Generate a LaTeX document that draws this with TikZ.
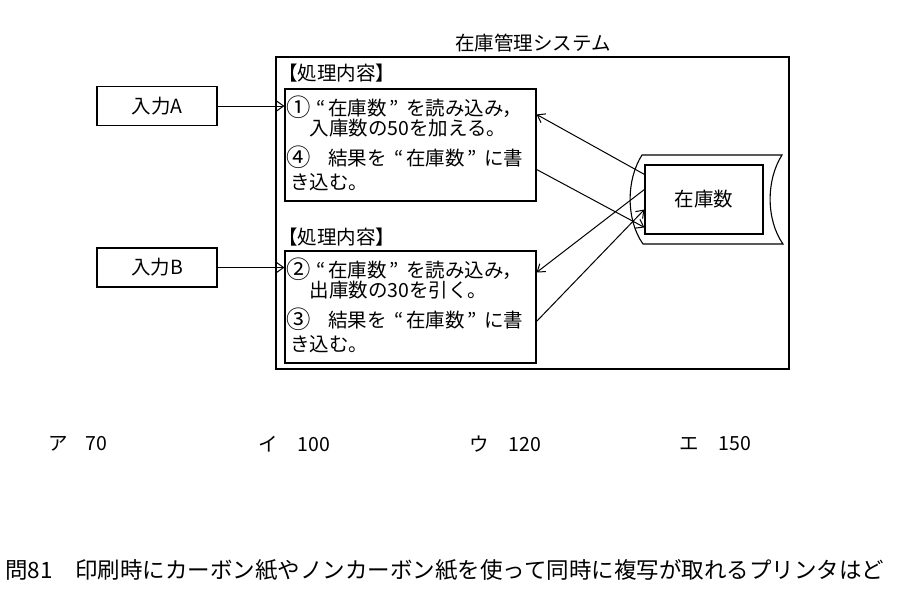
\documentclass[tikz,border=0pt]{standalone}
\usepackage{fontspec}
\usepackage{graphicx}
\setmainfont{Noto Sans CJK JP}
\usetikzlibrary{arrows.meta}
\newcommand\oq{\makebox[1em][r]{“\hspace{0.15em}}}
\newcommand\cq{\makebox[1em][l]{\hspace{0.15em}”}}
\newcommand\cn[1]{\makebox[1em][c]{\raisebox{-0.05em}{\scalebox{1.25}{#1}}}}
\begin{document}
\begin{tikzpicture}[x=1pt,y=-1pt,
  every node/.style={font=\fontsize{19.5}{19.5}\selectfont, inner sep=0pt},
  box/.style={draw, line width=1.1pt},
  txt/.style={anchor=west},
  arr/.style={line width=1pt, -{Straight Barb[length=7pt,width=10pt]}}]
\useasboundingbox (0,0) rectangle (900,589);
% system frame
\node[box, minimum width=513pt, minimum height=312pt] (sys) at (532.5,213) {};
\node (title) at (533,43) {在庫管理システム};
% inputs
\node[box, minimum width=120pt, minimum height=39pt] (inA) at (157,106) {入力A};
\node[box, minimum width=120pt, minimum height=39pt] (inB) at (157,267.5) {入力B};
% process boxes
\node[box, minimum width=251pt, minimum height=112pt] (p1) at (410.5,145) {};
\node[box, minimum width=251pt, minimum height=112pt] (p2) at (410.5,307) {};
\node[txt] (lab1) at (278,73) {【処理内容】};
\node[txt] (lab2) at (278,237) {【処理内容】};
\node[txt] (a1) at (289,107) {\cn{①}\oq 在庫数\cq を読み込み，};
\node[txt] (a2) at (290,128) {　入庫数の50を加える。};
\node[txt] (a3) at (289,157) {\cn{④}　結果を\oq 在庫数\cq に書};
\node[txt] (a4) at (290,182) {き込む。};
\node[txt] (b1) at (289,269) {\cn{②}\oq 在庫数\cq を読み込み，};
\node[txt] (b2) at (290,290) {　出庫数の30を引く。};
\node[txt] (b3) at (289,319) {\cn{③}　結果を\oq 在庫数\cq に書};
\node[txt] (b4) at (290,344) {き込む。};
% storage
\draw[line width=1.1pt] (642,155) -- (782,155) .. controls (766,180) and (766,220) .. (783,244) -- (643,244) .. controls (626,220) and (626,180) .. (642,155) -- cycle;
\node[box, minimum width=118pt, minimum height=69pt] (stk) at (704,199.5) {在庫数};
% arrows
\draw[arr] (inA.east) -- (inA.east -| p1.west);
\draw[arr] (inB.east) -- (inB.east -| p2.west);
\draw[arr] ([yshift=-10pt]stk.north west) -- ([yshift=-26pt]p1.north east);
\draw[arr] ([yshift=-81pt]p1.north east) -- ([yshift=-63pt]stk.north west);
\draw[arr] ([yshift=-25pt]stk.north west) -- ([yshift=-22pt]p2.north east);
\draw[arr] ([yshift=-71pt]p2.north east) -- ([yshift=-45pt]stk.north west);
% answers
\node[txt] (ansA) at (48,444) {ア\hspace{18pt}70};
\node[txt] (ansB) at (258,444) {イ\hspace{20pt}100};
\node[txt] (ansC) at (469,444) {ウ\hspace{20pt}120};
\node[txt] (ansD) at (679,444) {エ\hspace{20pt}150};
% question
\node[txt, font=\fontsize{22.5}{22.5}\selectfont] (q) at (5,570) {問81　印刷時にカーボン紙やノンカーボン紙を使って同時に複写が取れるプリンタはど};
\end{tikzpicture}
\end{document}
